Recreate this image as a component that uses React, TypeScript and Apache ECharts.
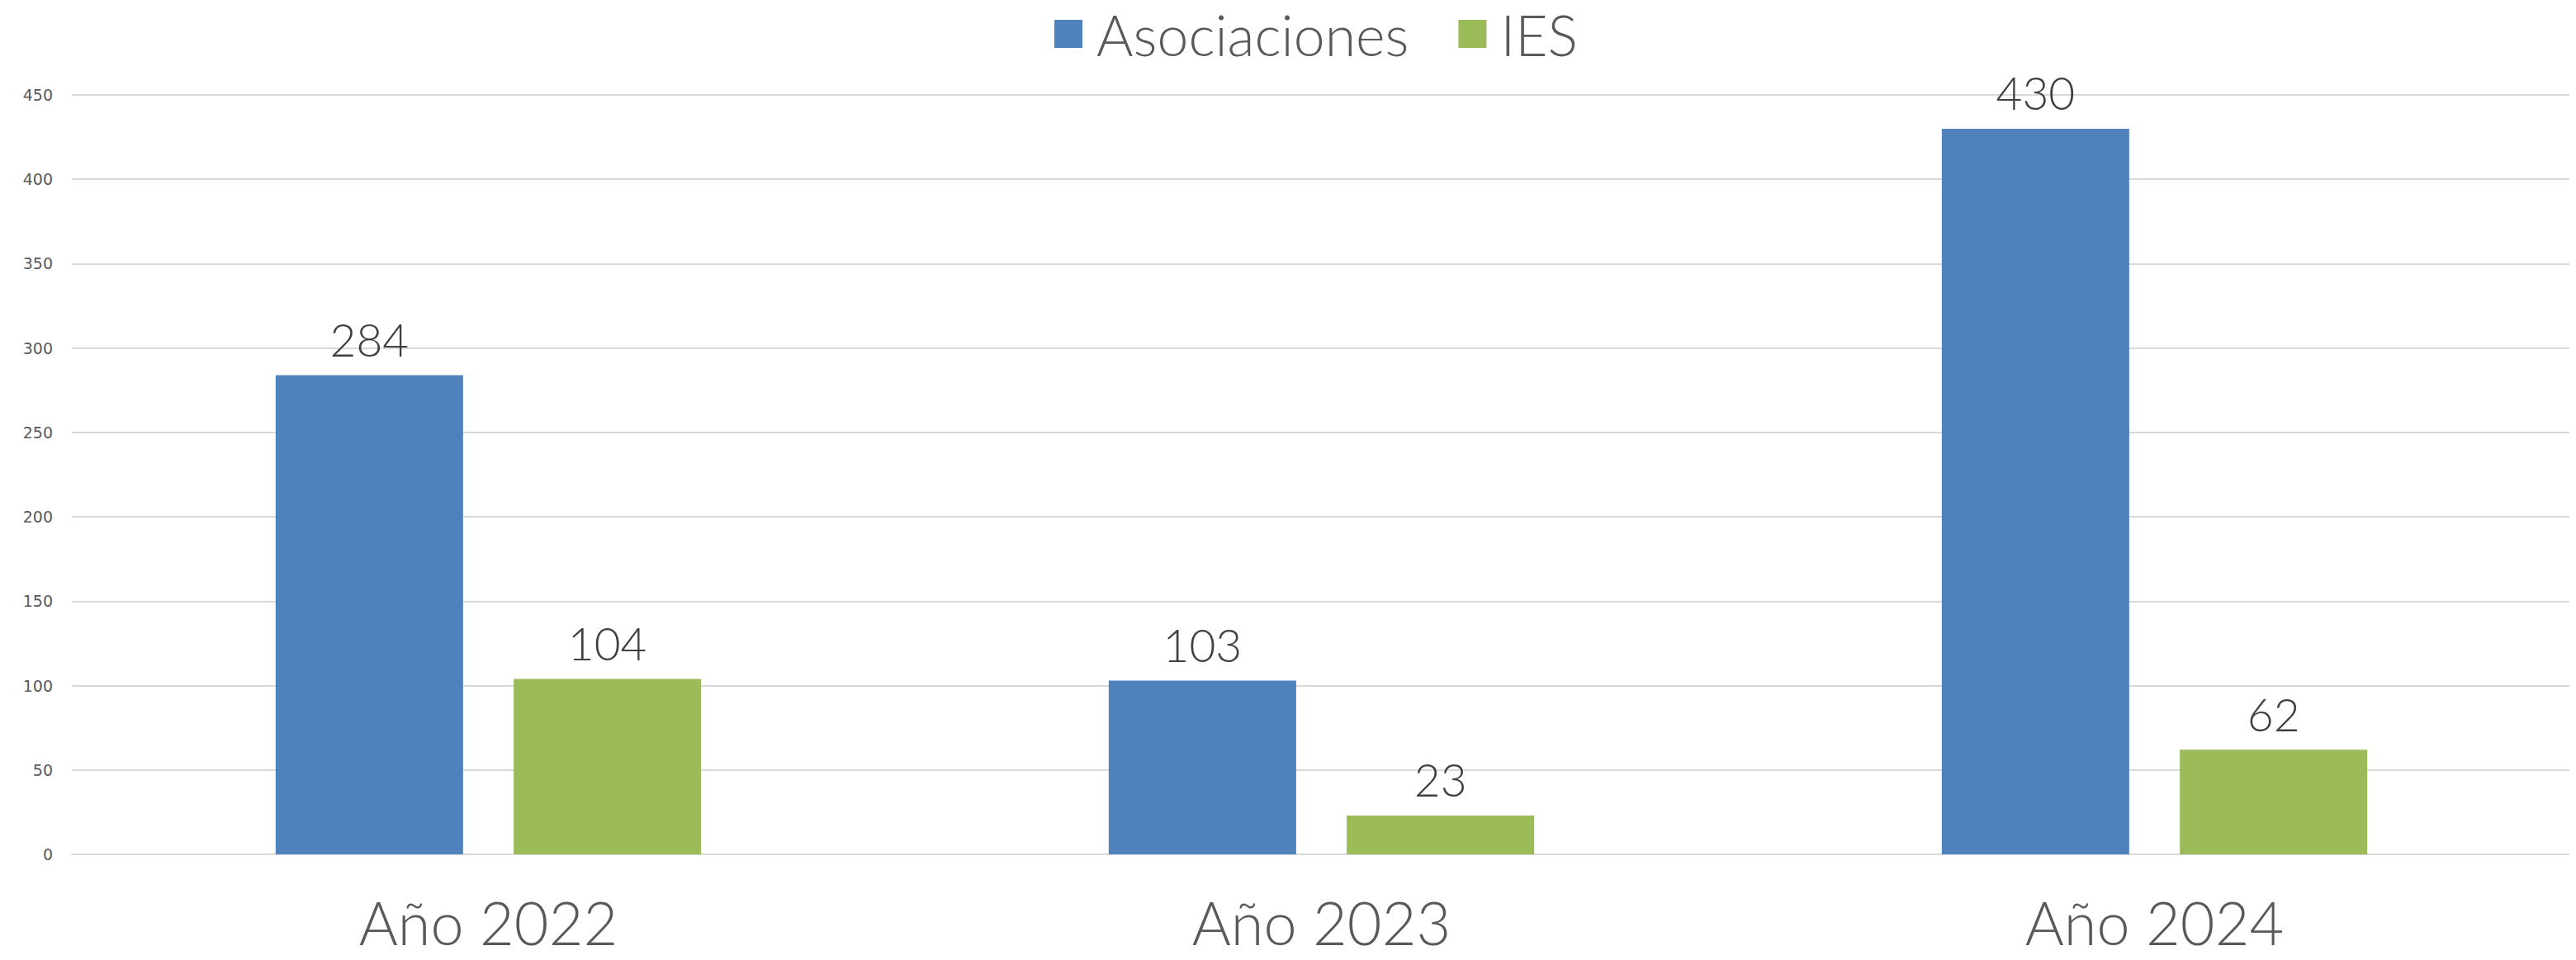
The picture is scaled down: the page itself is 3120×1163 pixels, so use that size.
import React, { useEffect, useRef } from "react";
import * as echarts from "echarts";

const categories = ["Año 2022", "Año 2023", "Año 2024"];
const asociaciones = [284, 103, 430];
const ies = [104, 23, 62];
const yMin = 0;
const yMax = 450;
const yInterval = 50;

export default function App() {
  const ref = useRef<HTMLDivElement>(null);
  useEffect(() => {
    if (!ref.current) return;
    const chart = echarts.init(ref.current, null, { renderer: "svg" });
    const labelStyle = {
      show: true,
      position: "top" as const,
      distance: 16,
      color: "#404040",
      fontFamily: "Lato",
      fontWeight: 300 as any,
      fontSize: 55,
    };
    chart.setOption({
      animation: false,
      backgroundColor: "#ffffff",
      legend: {
        top: 2,
        left: 1272,
        itemWidth: 34,
        itemHeight: 34,
        itemGap: 60,
        icon: "rect",
        textStyle: {
          color: "#595959",
          fontFamily: "Lato",
          fontWeight: 300 as any,
          fontSize: 68,
          padding: [0, 0, 0, 12],
        },
        data: ["Asociaciones", "IES"],
      },
      grid: { left: 87, right: 6, top: 115, bottom: 128, containLabel: false },
      xAxis: {
        type: "category",
        data: categories,
        axisTick: { show: false },
        axisLine: { lineStyle: { color: "#d9d9d9", width: 2 } },
        axisLabel: {
          color: "#595959",
          fontFamily: "Lato",
          fontWeight: 300 as any,
          fontSize: 72,
          lineHeight: 72,
          margin: 46,
        },
      },
      yAxis: {
        type: "value",
        min: yMin,
        max: yMax,
        interval: yInterval,
        axisLine: { show: false },
        axisTick: { show: false },
        splitLine: { lineStyle: { color: "#d9d9d9", width: 2 } },
        axisLabel: {
          color: "#595959",
          fontFamily: "DejaVu Sans",
          fontSize: 19,
          margin: 23,
        },
      },
      series: [
        {
          name: "Asociaciones",
          type: "bar",
          data: asociaciones,
          barWidth: 227,
          barGap: "27%",
          itemStyle: { color: "#4f81bd" },
          label: labelStyle,
        },
        {
          name: "IES",
          type: "bar",
          data: ies,
          barWidth: 227,
          barGap: "27%",
          itemStyle: { color: "#9bbb59" },
          label: labelStyle,
        },
      ],
    });
    return () => chart.dispose();
  }, []);
  return <div ref={ref} style={{ width: 3120, height: 1163, margin: -8 }} />;
}
